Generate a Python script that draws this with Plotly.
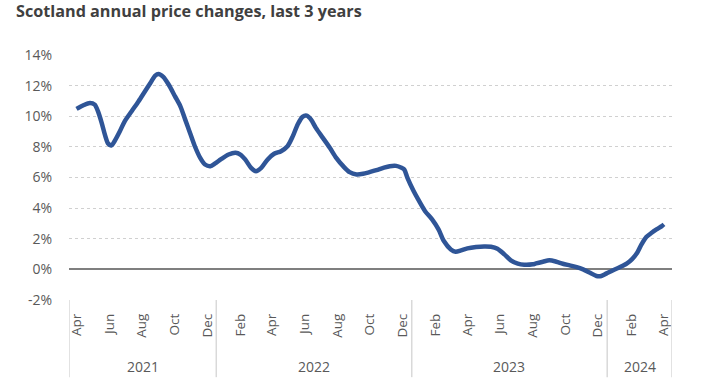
import plotly.graph_objects as go
import pandas as pd

# ---- data ----
dates = [
    "2021-04-15", "2021-04-27", "2021-05-10", "2021-05-19", "2021-05-25", "2021-06-01",
    "2021-06-07", "2021-06-13", "2021-06-19", "2021-06-25", "2021-07-05", "2021-07-14",
    "2021-07-27", "2021-08-09", "2021-08-21", "2021-08-31", "2021-09-09", "2021-09-15",
    "2021-09-24", "2021-10-04", "2021-10-16", "2021-10-26", "2021-11-04", "2021-11-13",
    "2021-11-22", "2021-12-02", "2021-12-11", "2021-12-21", "2021-12-30", "2022-01-10",
    "2022-01-24", "2022-02-06", "2022-02-15", "2022-02-24", "2022-03-07", "2022-03-16",
    "2022-03-26", "2022-04-07", "2022-04-19", "2022-05-02", "2022-05-14", "2022-05-24",
    "2022-06-02", "2022-06-11", "2022-06-19", "2022-06-27", "2022-07-06", "2022-07-19",
    "2022-08-01", "2022-08-13", "2022-08-26", "2022-09-07", "2022-09-20", "2022-10-02",
    "2022-10-14", "2022-10-27", "2022-11-09", "2022-11-21", "2022-12-03", "2022-12-13",
    "2022-12-18", "2022-12-24", "2023-01-04", "2023-01-13", "2023-01-26", "2023-02-08",
    "2023-02-20", "2023-03-02", "2023-03-15", "2023-03-24", "2023-04-03", "2023-04-15",
    "2023-05-01", "2023-05-16", "2023-05-29", "2023-06-10", "2023-06-23", "2023-07-05",
    "2023-07-18", "2023-07-30", "2023-08-15", "2023-08-21", "2023-09-03", "2023-09-15",
    "2023-09-28", "2023-10-10", "2023-10-23", "2023-11-05", "2023-11-17", "2023-11-30",
    "2023-12-12", "2023-12-21", "2023-12-31", "2024-01-13", "2024-01-25", "2024-02-07",
    "2024-02-16", "2024-02-26", "2024-03-05", "2024-03-14", "2024-03-24", "2024-04-02",
    "2024-04-12", "2024-04-16",
]
annual_change_pct = [
    10.48, 10.70, 10.87, 10.76, 10.33, 9.57,
    8.80, 8.22, 8.09, 8.37, 9.02, 9.67,
    10.33, 10.98, 11.63, 12.17, 12.65, 12.76,
    12.57, 12.07, 11.30, 10.65, 9.78, 8.91,
    8.04, 7.28, 6.85, 6.74, 6.92, 7.20,
    7.50, 7.61, 7.50, 7.18, 6.63, 6.41,
    6.63, 7.18, 7.55, 7.72, 8.04, 8.70,
    9.46, 9.96, 10.04, 9.78, 9.24, 8.59,
    7.94, 7.28, 6.74, 6.35, 6.20, 6.24,
    6.35, 6.48, 6.63, 6.74, 6.76, 6.63,
    6.52, 5.98, 5.15, 4.57, 3.80, 3.26,
    2.61, 1.85, 1.30, 1.15, 1.24, 1.37,
    1.46, 1.50, 1.48, 1.35, 0.98, 0.59,
    0.37, 0.30, 0.33, 0.39, 0.50, 0.59,
    0.50, 0.37, 0.26, 0.15, 0.00, -0.22,
    -0.43, -0.43, -0.26, -0.04, 0.15, 0.39,
    0.65, 1.09, 1.63, 2.11, 2.39, 2.61,
    2.83, 2.94,
]

month_tick_dates = [
    "2021-04-15", "2021-06-15", "2021-08-15", "2021-10-15", "2021-12-15",
    "2022-02-15", "2022-04-15", "2022-06-15", "2022-08-15", "2022-10-15", "2022-12-15",
    "2023-02-15", "2023-04-15", "2023-06-15", "2023-08-15", "2023-10-15", "2023-12-15",
    "2024-02-15", "2024-04-15",
]
month_tick_labels = [
    "Apr", "Jun", "Aug", "Oct", "Dec",
    "Feb", "Apr", "Jun", "Aug", "Oct", "Dec",
    "Feb", "Apr", "Jun", "Aug", "Oct", "Dec",
    "Feb", "Apr",
]
year_labels = ["2021", "2022", "2023", "2024"]
year_bounds = ["2021-04-01", "2022-01-01", "2023-01-01", "2024-01-01", "2024-05-01"]

y_tick_vals = [-2, 0, 2, 4, 6, 8, 10, 12, 14]
y_tick_text = ["-2%", "0%", "2%", "4%", "6%", "8%", "10%", "12%", "14%"]

# ---- figure ----
FONT = "Open Sans, DejaVu Sans, sans-serif"
TXT = "#595959"

fig = go.Figure()
fig.add_trace(go.Scatter(
    x=dates, y=annual_change_pct, mode="lines",
    line=dict(color="#2F5597", width=4.5, shape="spline", smoothing=0.8),
    showlegend=False, hoverinfo="x+y",
))

# year separators and labels under the axis
sep_bottom = -0.315
for b in year_bounds:
    fig.add_shape(type="line", xref="x", yref="paper", x0=b, x1=b, y0=0, y1=sep_bottom,
                  line=dict(color="#D9D9D9", width=1.5))
bts = pd.to_datetime(year_bounds)
for i, lab in enumerate(year_labels):
    mid = bts[i] + (bts[i + 1] - bts[i]) / 2
    fig.add_annotation(x=mid, xref="x", y=-0.272, yref="paper", text=lab,
                       showarrow=False, yanchor="middle",
                       font=dict(family=FONT, size=14, color=TXT))

fig.update_layout(
    width=715, height=388,
    margin=dict(l=69, r=715 - 69 - 603, t=55, b=388 - 55 - 245),
    paper_bgcolor="white", plot_bgcolor="white",
    title=dict(text="<b>Scotland annual price changes, last 3 years</b>",
               x=16 / 715, xanchor="left", xref="container",
               y=1 - 11 / 388, yanchor="middle", yref="container",
               font=dict(family=FONT, size=16.2, color="#404040")),
    xaxis=dict(
        type="date", range=[year_bounds[0], year_bounds[-1]],
        tickmode="array", tickvals=month_tick_dates, ticktext=month_tick_labels,
        tickangle=-90, showgrid=False, zeroline=False, showline=False,
        ticks="", tickfont=dict(family=FONT, size=13.5, color=TXT),
        ticklabelstandoff=10,
    ),
    yaxis=dict(
        range=[-2, 14], tickmode="array", tickvals=y_tick_vals, ticktext=y_tick_text,
        showgrid=True, gridcolor="#D0D0D0", griddash="dot", gridwidth=1,
        zeroline=True, zerolinecolor="#7F7F7F", zerolinewidth=2,
        showline=False, ticks="", tickfont=dict(family=FONT, size=14, color=TXT),
        ticklabelstandoff=16,
    ),
)

fig.write_html("out.html",
               config={"displayModeBar": False},
               post_script="document.body.style.margin='0';document.body.style.overflow='hidden';")
